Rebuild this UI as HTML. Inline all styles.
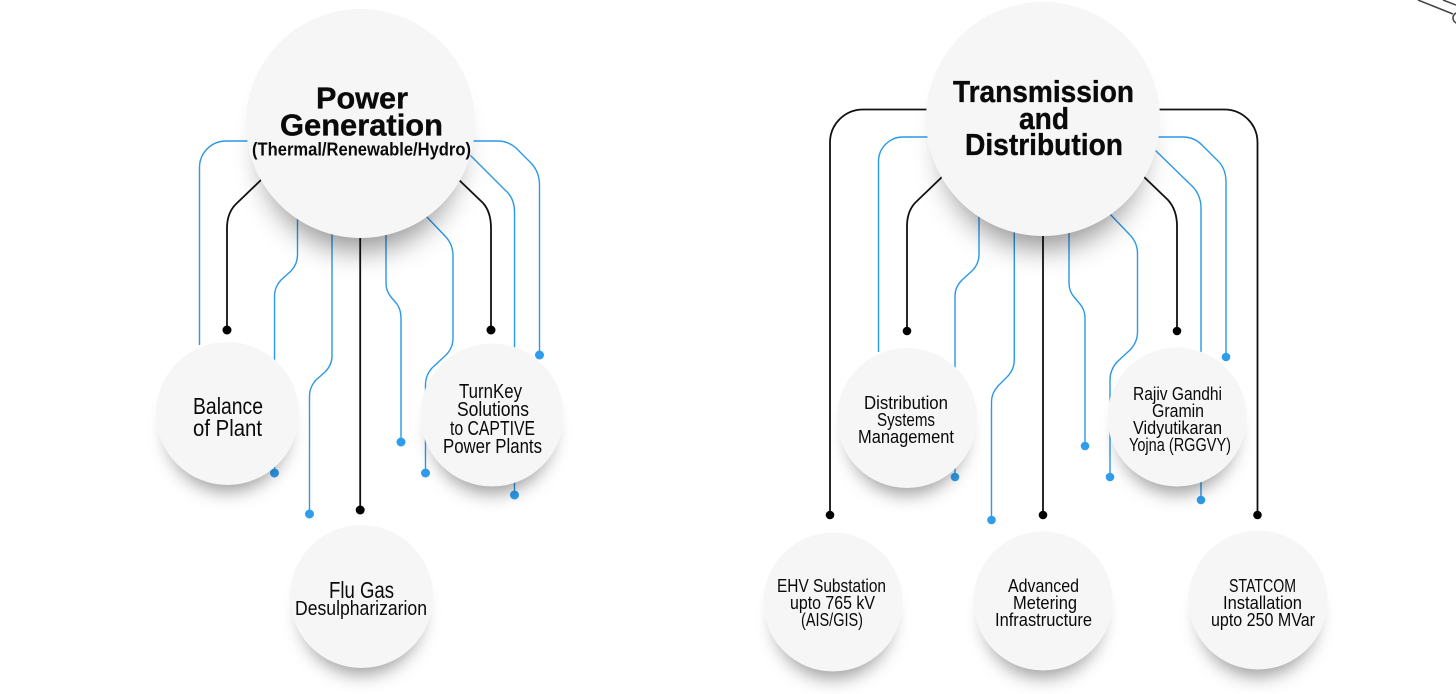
<!DOCTYPE html>
<html><head><meta charset="utf-8"><style>
html,body{margin:0;padding:0;background:#fff;width:1456px;height:694px;overflow:hidden}
svg{display:block}
.b{fill:none;stroke:#2b98e8;stroke-width:1.4}
.k{fill:none;stroke:#111;stroke-width:1.8}
.bd{fill:#2f9cec}.kd{fill:#000}
.c{fill:#f6f6f6}.s{fill:#000;fill-opacity:.4;filter:url(#bl)}.sb{fill:#000;fill-opacity:.42;filter:url(#bl2)}
text{font-family:"Liberation Sans",sans-serif;fill:#0a0a0a}
.h{font-weight:700;font-size:30.5px;stroke:#0a0a0a;stroke-width:.35}.h2{font-weight:700;font-size:18px}
.t{font-size:18px}.m{font-size:20px}.l{font-size:23px}
</style></head><body>
<svg width="1456" height="694" viewBox="0 0 1456 694" xmlns="http://www.w3.org/2000/svg">
<defs>
<filter id="bl" x="-50%" y="-50%" width="200%" height="200%"><feGaussianBlur stdDeviation="9"/></filter>
<filter id="bl2" x="-50%" y="-50%" width="200%" height="200%"><feGaussianBlur stdDeviation="14"/></filter>
</defs>
<!-- corner -->
<path d="M1418 0L1453 14M1443 0L1456 5" fill="none" stroke="#444" stroke-width="1.5"/>
<circle cx="1458.500" cy="18" r="5.500" fill="none" stroke="#444" stroke-width="1.5"/>

<!-- left connectors -->
<path class="b" d="M250 141H226A26.500 26.500 0 0 0 199.500 167.500V345"/>
<path class="k" d="M262 179L236 204Q227 213 227 228V330"/>
<path class="b" d="M297.500 218V255Q297.500 264 291 271L281 280Q274.500 287 274.500 296V473"/>
<path class="b" d="M332 232V356Q332 365 325 372L316 380Q309.500 387 309.500 396V514"/>
<path class="k" d="M360.200 236V510"/>
<path class="b" d="M386 232V283Q386 291 391 297L397 304Q401 310 401 318V442"/>
<path class="b" d="M425 215L445 236Q453 244 453 256V338Q453 348 446 355L432 368Q425.500 375 425.500 385V473"/>
<path class="k" d="M458 179L483 203Q491 212 491 228V330"/>
<path class="b" d="M468 153L505 190Q514.500 198 514.500 212V495"/>
<path class="b" d="M472 141H498Q508 141 516 148L531 163Q539.500 172 539.500 185V355"/>
<g class="bd">
<circle cx="274.500" cy="473" r="4.500"/><circle cx="309.500" cy="514" r="4.500"/><circle cx="401" cy="442" r="4.500"/><circle cx="425.500" cy="473" r="4.500"/><circle cx="514.500" cy="495" r="4.500"/><circle cx="539.500" cy="355" r="4.500"/>
</g>
<g class="kd"><circle cx="227" cy="330" r="4.500"/><circle cx="491" cy="330" r="4.500"/><circle cx="360.200" cy="510" r="4.500"/></g>

<!-- right connectors -->
<path class="k" d="M930 109.500H863A33 33 0 0 0 830 142.500V515"/>
<path class="b" d="M930 137H903A24.500 24.500 0 0 0 878.500 161.500V352"/>
<path class="k" d="M943 176L917 201Q907 210 907 226V331"/>
<path class="b" d="M979 215V255Q979 263 973 270L962 280Q955 287 955 296V477"/>
<path class="b" d="M1014.300 232V360Q1014.300 369 1008 376L998 386Q991.500 393 991.500 402V520"/>
<path class="k" d="M1043 234V515"/>
<path class="b" d="M1069 232V283Q1069 291 1074 297L1080 304Q1085 310 1085 318V446"/>
<path class="b" d="M1109 213L1129 234Q1137.500 242 1137.500 254V332Q1137.500 342 1130 350L1117 362Q1110 370 1110 380V477"/>
<path class="k" d="M1143 176L1168 200Q1177 210 1177 226V331"/>
<path class="b" d="M1155 150L1192 186Q1201 195 1201 208V500"/>
<path class="b" d="M1157 137H1183Q1194 137 1202 145L1217 160Q1226 168 1226 182V357"/>
<path class="k" d="M1156 109.500H1224.500A33 33 0 0 1 1257.500 142.500V515"/>
<g class="bd">
<circle cx="955" cy="477" r="4.300"/><circle cx="991.500" cy="520" r="4.300"/><circle cx="1085" cy="446" r="4.300"/><circle cx="1110" cy="477" r="4.300"/><circle cx="1201" cy="500" r="4.300"/><circle cx="1226" cy="357" r="4.300"/>
</g>
<g class="kd"><circle cx="830" cy="515" r="4.300"/><circle cx="907" cy="331" r="4.300"/><circle cx="1043" cy="515" r="4.300"/><circle cx="1177" cy="331" r="4.300"/><circle cx="1257.500" cy="515" r="4.300"/></g>

<!-- shadows -->
<circle class="sb" cx="360.500" cy="152" r="98"/>
<circle class="sb" cx="1043" cy="148" r="100"/>
<circle class="s" cx="227.500" cy="431" r="60"/>
<circle class="s" cx="492" cy="433" r="60"/>
<circle class="s" cx="361.500" cy="614" r="60"/>
<circle class="s" cx="907" cy="436" r="58"/>
<circle class="s" cx="1177" cy="435" r="58"/>
<circle class="s" cx="833" cy="620" r="58"/>
<circle class="s" cx="1043" cy="619" r="58"/>
<circle class="s" cx="1258" cy="618" r="58"/>

<!-- circles -->
<circle class="c" cx="360.500" cy="123.500" r="114.500"/>
<circle class="c" cx="1043" cy="119" r="117"/>
<circle class="c" cx="227.500" cy="413.500" r="71.500"/>
<circle class="c" cx="492" cy="415" r="71.500"/>
<circle class="c" cx="361.500" cy="596.500" r="71.500"/>
<circle class="c" cx="907" cy="418" r="70"/>
<circle class="c" cx="1177" cy="417" r="69.500"/>
<circle class="c" cx="833" cy="602" r="69.500"/>
<circle class="c" cx="1043" cy="601" r="69.500"/>
<circle class="c" cx="1258" cy="600" r="69.500"/>

<!-- labels -->
<text class="h" x="316" y="108.500" textLength="92" lengthAdjust="spacingAndGlyphs">Power</text>
<text class="h" x="280" y="135.500" textLength="163" lengthAdjust="spacingAndGlyphs">Generation</text>
<text class="h2" x="252" y="155.500" textLength="219" lengthAdjust="spacingAndGlyphs">(Thermal/Renewable/Hydro)</text>
<text class="h" x="953" y="102" textLength="181" lengthAdjust="spacingAndGlyphs">Transmission</text>
<text class="h" x="1019" y="129" textLength="50" lengthAdjust="spacingAndGlyphs">and</text>
<text class="h" x="965" y="155" textLength="158" lengthAdjust="spacingAndGlyphs">Distribution</text>

<text class="l" x="193" y="414" textLength="70" lengthAdjust="spacingAndGlyphs">Balance</text>
<text class="l" x="193" y="436" textLength="69" lengthAdjust="spacingAndGlyphs">of Plant</text>

<text class="m" x="459" y="398" textLength="63" lengthAdjust="spacingAndGlyphs">TurnKey</text>
<text class="m" x="457" y="416" textLength="72" lengthAdjust="spacingAndGlyphs">Solutions</text>
<text class="m" x="450" y="435" textLength="85" lengthAdjust="spacingAndGlyphs">to CAPTIVE</text>
<text class="m" x="443" y="453" textLength="99" lengthAdjust="spacingAndGlyphs">Power Plants</text>

<text class="l" x="329" y="598" textLength="65" lengthAdjust="spacingAndGlyphs">Flu Gas</text>
<text class="m" x="295" y="615" textLength="132" lengthAdjust="spacingAndGlyphs">Desulpharizarion</text>

<text class="t" x="864" y="409" textLength="84" lengthAdjust="spacingAndGlyphs">Distribution</text>
<text class="t" x="877" y="426" textLength="58" lengthAdjust="spacingAndGlyphs">Systems</text>
<text class="t" x="858" y="443" textLength="96" lengthAdjust="spacingAndGlyphs">Management</text>

<text class="t" x="1133" y="400" textLength="89" lengthAdjust="spacingAndGlyphs">Rajiv Gandhi</text>
<text class="t" x="1152" y="417" textLength="52" lengthAdjust="spacingAndGlyphs">Gramin</text>
<text class="t" x="1133" y="434" textLength="89" lengthAdjust="spacingAndGlyphs">Vidyutikaran</text>
<text class="t" x="1129" y="451" textLength="102" lengthAdjust="spacingAndGlyphs">Yojna (RGGVY)</text>

<text class="t" x="777" y="592" textLength="109" lengthAdjust="spacingAndGlyphs">EHV Substation</text>
<text class="t" x="790" y="609" textLength="85" lengthAdjust="spacingAndGlyphs">upto 765 kV</text>
<text class="t" x="801" y="626" textLength="62" lengthAdjust="spacingAndGlyphs">(AIS/GIS)</text>

<text class="t" x="1008" y="592" textLength="71" lengthAdjust="spacingAndGlyphs">Advanced</text>
<text class="t" x="1013" y="609" textLength="64" lengthAdjust="spacingAndGlyphs">Metering</text>
<text class="t" x="995" y="626" textLength="97" lengthAdjust="spacingAndGlyphs">Infrastructure</text>

<text class="t" x="1229" y="592" textLength="67" lengthAdjust="spacingAndGlyphs">STATCOM</text>
<text class="t" x="1223" y="609" textLength="79" lengthAdjust="spacingAndGlyphs">Installation</text>
<text class="t" x="1211" y="626" textLength="104" lengthAdjust="spacingAndGlyphs">upto 250 MVar</text>
</svg>
</body></html>
